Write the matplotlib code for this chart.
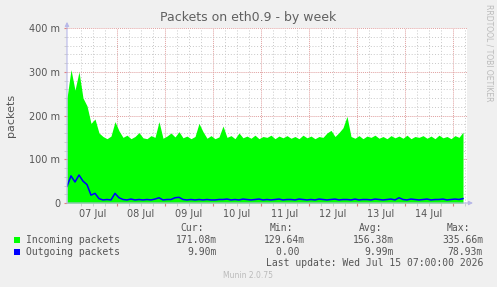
import numpy as np
import matplotlib
matplotlib.use('Agg')
import matplotlib.pyplot as plt
from matplotlib.patches import Rectangle

# Data (milli packets/s), 2-hour samples, starting Jul 06 23:00
incoming = [240, 305, 258, 300, 240, 222, 182, 192, 160, 152,
            147, 153, 186, 165, 150, 155, 147, 152, 161, 149,
            147, 154, 150, 186, 148, 153, 160, 151, 163, 149,
            153, 147, 152, 182, 163, 148, 154, 147, 151, 176,
            150, 154, 147, 160, 149, 153, 148, 155, 147, 152,
            150, 155, 147, 153, 149, 154, 148, 152, 147, 155,
            149, 153, 147, 152, 150, 160, 166, 152, 161, 172,
            198, 152, 148, 154, 147, 153, 150, 155, 148, 152,
            147, 154, 149, 153, 148, 155, 147, 152, 150, 154,
            148, 153, 147, 155, 149, 152, 147, 154, 150, 162]
outgoing = [38, 62, 48, 64, 50, 42, 18, 22, 10, 7,
            8, 7, 22, 12, 8, 7, 9, 7, 8, 7,
            8, 7, 9, 12, 7, 8, 8, 12, 13, 8,
            7, 8, 7, 8, 7, 8, 7, 7, 8, 8,
            9, 7, 8, 7, 9, 8, 7, 8, 9, 7,
            8, 7, 8, 9, 7, 8, 8, 7, 9, 8,
            7, 8, 7, 9, 8, 7, 8, 9, 7, 8,
            8, 7, 9, 7, 8, 8, 7, 9, 8, 7,
            8, 9, 7, 12, 8, 7, 9, 8, 7, 8,
            9, 7, 8, 8, 9, 7, 8, 9, 8, 10]
day_labels = ['07 Jul', '08 Jul', '09 Jul', '10 Jul', '11 Jul', '12 Jul', '13 Jul', '14 Jul']
series_names = ['Incoming packets', 'Outgoing packets']
cur = ['171.08m', '9.90m']
vmin = ['129.64m', '0.00 ']
vavg = ['156.38m', '9.99m']
vmax = ['335.66m', '78.93m']

W, H = 497, 287
BG = '#F0F0F0'
TXT = '#555555'
RED = '#E0A0A0'
GRY = '#C8C8C8'
AXC = '#B8B8E8'


def px(x, y):
    return x / W, 1 - y / H


fig = plt.figure(figsize=(W / 100, H / 100), dpi=100, facecolor=BG)
ax = fig.add_axes([67 / W, (H - 203) / H, 400 / W, 175 / H])
ax.set_facecolor('white')
for s in ax.spines.values():
    s.set_visible(False)

# Grid
for h in np.arange(6, 200, 6):
    if h % 24 != 0:
        ax.axvline(h, color=GRY, lw=0.7, ls=(0, (1, 2)), zorder=0)
for h in range(24, 200, 24):
    ax.axvline(h, color=RED, lw=0.7, ls=(0, (1, 1)), zorder=0)
for v in range(20, 401, 20):
    if v % 100:
        ax.axhline(v, color=GRY, lw=0.7, ls=(0, (1, 2)), zorder=0)
for v in range(100, 401, 100):
    ax.axhline(v, color=RED, lw=0.7, ls=(0, (1, 1)), zorder=0)

# Series
t_in = -1 + 2 * np.arange(len(incoming))
ax.fill_between(t_in, incoming, color='#00FF00', lw=0, zorder=2)
t_out = -1 + 2 * np.arange(len(outgoing))
ax.plot(t_out, outgoing, color='#0000FF', lw=1.1, zorder=3)

ax.set_xlim(-1, 199)
ax.set_ylim(0, 400)

# Ticks
ax.set_xticks(range(24, 200, 24))
ax.set_xticks(range(6, 200, 6), minor=True)
ax.tick_params(axis='x', which='major', length=2, color='#E08080', labelbottom=False)
ax.tick_params(axis='x', which='minor', length=2, color=GRY)
ax.set_yticks(range(0, 401, 100))
ax.set_yticklabels(['0'] + ['%d m' % v for v in range(100, 401, 100)])
ax.set_yticks(range(0, 401, 20), minor=True)
ax.tick_params(axis='y', which='major', length=2, color='#E08080', labelsize=7, labelcolor=TXT, pad=3)
ax.tick_params(axis='y', which='minor', length=2, color=GRY)
for i, lab in enumerate(day_labels):
    ax.text(12 + 24 * i, -0.035, lab, transform=ax.get_xaxis_transform(),
            ha='center', va='top', fontsize=7, color=TXT)

# Axis arrows
ax.annotate('', xy=(0, 1.035), xytext=(0, 0), xycoords='axes fraction',
            arrowprops=dict(arrowstyle='-|>', color=AXC, lw=0.8, mutation_scale=6,
                            shrinkA=0, shrinkB=0), annotation_clip=False)
ax.annotate('', xy=(1.015, 0), xytext=(0, 0), xycoords='axes fraction',
            arrowprops=dict(arrowstyle='-|>', color=AXC, lw=0.8, mutation_scale=6,
                            shrinkA=0, shrinkB=0), annotation_clip=False)

# Titles
fig.text(*px(248, 18), 'Packets on eth0.9 - by week', ha='center', va='center',
         fontsize=9, color='#606060')
fig.text(*px(11, 115), 'packets', rotation=90, ha='center', va='center', fontsize=8, color=TXT)
fig.text(*px(489, 53), 'RRDTOOL / TOBI OETIKER', rotation=270, ha='center', va='center',
         fontsize=5.5, color='#BBBBBB')

# Legend
mono = dict(family='DejaVu Sans Mono', fontsize=7, color=TXT, va='center')
for x, lab in zip([204, 293, 382, 470], ['Cur:', 'Min:', 'Avg:', 'Max:']):
    fig.text(*px(x, 228), lab, ha='right', **mono)
colors = ['#00FF00', '#0000FF']
for k, y in enumerate([240, 252]):
    fig.patches.append(Rectangle(px(14, y + 3), 6 / W, 6 / H, transform=fig.transFigure,
                                 facecolor=colors[k], edgecolor='none'))
    fig.text(*px(26, y), series_names[k], ha='left', **mono)
    for x, val in zip([217, 305, 394, 483], [cur[k], vmin[k], vavg[k], vmax[k]]):
        fig.text(*px(x, y), val, ha='right', **mono)
fig.text(*px(483, 263), 'Last update: Wed Jul 15 07:00:00 2026', ha='right', **mono)
fig.text(*px(248, 276), 'Munin 2.0.75', ha='center', va='center', fontsize=5.5, color='#BBBBBB')

fig.savefig('out.png', dpi=100, facecolor=BG)
